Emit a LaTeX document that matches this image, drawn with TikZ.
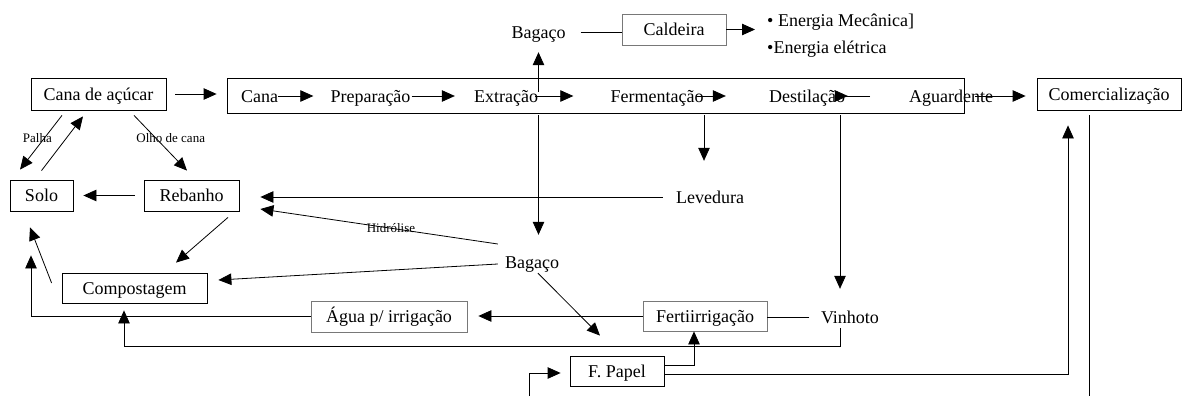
\documentclass[tikz,border=0pt]{standalone}
\usepackage{fontspec}
\setmainfont{Liberation Serif}
\usepackage{xcolor}
\definecolor{LineGray}{RGB}{120,120,120}
\usepackage{tikz}
\usetikzlibrary{arrows.meta}
\tikzset{
  % Framed box
  box/.style={
    rectangle, draw, line width=0.8pt,
    inner sep=0pt, text height=12pt, text depth=0pt
  },
  % Light framed box
  box gray/.style={box, draw=LineGray},
  % Bare text label
  lbl/.style={inner sep=0pt, text height=12pt, text depth=0pt},
  % Small edge label
  small/.style={font=\fontsize{13}{15}\selectfont, inner sep=0pt},
  % Lines and arrows
  ln/.style={line width=0.8pt},
  arr/.style={-{Triangle[length=13pt,width=11.5pt]}, line width=0.8pt},
}
\begin{document}
\begin{tikzpicture}[x=1pt, y=-1pt, font=\fontsize{18}{22}\selectfont]
  \useasboundingbox (0,0) rectangle (1182,396);

  %% Boxes
  \node[box, minimum width=135pt, minimum height=32pt] (cane) at (98.5,94) {Cana de açúcar};
  \node[box, minimum width=737pt, minimum height=35pt] (proc) at (595.5,95.5) {};
  \node[box, minimum width=144pt, minimum height=32pt] (comerc) at (1109,94) {Comercialização};
  \node[box, minimum width=63pt, minimum height=31pt] (solo) at (41.5,195.5) {Solo};
  \node[box, minimum width=95pt, minimum height=31pt] (rebanho) at (191.5,195.5) {Rebanho};
  \node[box, minimum width=145pt, minimum height=30pt] (compost) at (134.5,288) {Compostagem};
  \node[box gray, minimum width=156pt, minimum height=31pt] (agua) at (389,316.5) {Água p/ irrigação};
  \node[box gray, minimum width=124pt, minimum height=30pt] (fert) at (705,316) {Fertiirrigação};
  \node[box, minimum width=94pt, minimum height=30pt] (papel) at (617,371) {F. Papel};
  \node[box gray, minimum width=104pt, minimum height=31pt] (caldeira) at (674,29.5) {Caldeira};

  %% Process steps
  \node[lbl] (cana) at (259.5,96) {Cana};
  \node[lbl] (prep) at (370.5,96) {Preparação};
  \node[lbl] (extr) at (506,96) {Extração};
  \node[lbl] (ferm) at (657,96) {Fermentação};
  \node[lbl] (dest) at (807,96) {Destilação};
  \node[lbl] (aguard) at (951,96) {Aguardente};

  %% Free labels
  \node[lbl] (bagtop) at (538.5,32) {Bagaço};
  \node[lbl, anchor=west] (energyA) at (767,21) {• Energia Mecânica]};
  \node[lbl, anchor=west] (energyB) at (767,48) {•Energia elétrica};
  \node[lbl] (levedura) at (710,197) {Levedura};
  \node[lbl] (bagbot) at (532,262) {Bagaço};
  \node[lbl] (vinhoto) at (850,317) {Vinhoto};

  \coordinate (fermdrop) at ([xshift=-6pt]levedura.north);
  \coordinate (destdrop) at ([xshift=-10pt]vinhoto.north);
  \coordinate (soloin) at ([xshift=-10.5pt]solo.south);
  \coordinate (vinhout) at ([xshift=-10pt]vinhoto.south);
  \coordinate (compin) at ([xshift=-10.5pt]compost.south);
  \coordinate (fertin) at ([xshift=-11pt]fert.south);
  \coordinate (comin) at ([xshift=-41pt]comerc.south);
  \coordinate (comout) at ([xshift=-20pt]comerc.south);
  \coordinate (loopL) at (529,396);
  \coordinate (loopR) at (1089,396);

  %% Process row
  \draw[arr, shorten <=9pt, shorten >=10pt] (cane.east) -- (cane.east -| proc.west);
  \draw[arr, shorten >=17pt] (cana.east) -- (prep.west);
  \draw[arr, shorten <=1pt, shorten >=19pt] (prep.east) -- (extr.west);
  \draw[arr, shorten <=-3pt, shorten >=37pt] (extr.east) -- (ferm.west);
  \draw[arr, shorten <=-8pt, shorten >=43pt] (ferm.east) -- (dest.west);
  \draw[arr, shorten <=-25pt, shorten >=61pt] (dest.east) -- (aguard.west);
  \draw[arr, shorten <=-18pt, shorten >=11pt] (aguard.east) -- (aguard.east -| comerc.west);

  %% Bagasse to boiler
  \draw[arr, shorten <=-2pt, shorten >=14pt] (bagtop |- extr.north) -- (bagtop.south);
  \draw[ln, shorten <=15pt] (bagtop.east) -- (bagtop.east -| caldeira.west);
  \draw[arr, shorten >=12pt] (caldeira.east) -- (caldeira.east -| energyA.west);

  %% Drops below the process box
  \draw[arr, shorten <=2pt, shorten >=21pt] (bagtop |- proc.south) -- (bagtop |- bagbot.north);
  \draw[arr, shorten <=2pt, shorten >=30pt] (fermdrop |- proc.south) -- (fermdrop);
  \draw[arr, shorten <=2pt, shorten >=22pt] (destdrop |- proc.south) -- (destdrop);

  %% Yeast and bagasse uses
  \draw[arr, shorten <=13pt, shorten >=21pt] (levedura.west) -- (levedura.west -| rebanho.east);
  \draw[arr] ([xshift=-7pt,yshift=18pt]bagbot.west)
    -- node[small, pos=0.45]{Hidrólise} ([xshift=21pt,yshift=-13.5pt]rebanho.east);
  \draw[arr] ([xshift=-7pt,yshift=-2pt]bagbot.west) -- ([xshift=11pt,yshift=8pt]compost.east);
  \draw[arr] ([xshift=6pt,yshift=-5pt]bagbot.south) -- ([xshift=-17pt,yshift=20pt]papel.north);

  %% Vinasse
  \draw[ln, shorten <=11.5pt] (vinhoto.west) -- (vinhoto.west -| fert.east);
  \draw[arr, shorten >=11pt] (fert.west) -- (fert.west -| agua.east);
  \draw[arr, shorten >=44pt] (agua.west) -| (soloin);
  \draw[arr, shorten <=5pt, shorten >=7pt] (vinhout) -- ++(0,23) -| (compin);

  %% Paper
  \draw[arr] ([yshift=6pt]papel.east) -| (fertin);
  \draw[arr, shorten >=15pt] ([yshift=-3pt]papel.east) -| (comin);
  \draw[ln, shorten <=5pt] (comout) -- (loopR);
  \draw[arr, shorten >=9pt] (loopL) |- ([yshift=-2pt]papel.west);

  %% Cane, soil, herd
  \draw[arr] ([xshift=-36.5pt,yshift=-5pt]cane.south)
    -- node[small, pos=0.42, xshift=-7pt]{Palha} ([xshift=-21.5pt,yshift=10pt]solo.north);
  \draw[arr] ([yshift=9pt]solo.north) -- ([xshift=-15.5pt,yshift=-6pt]cane.south);
  \draw[arr] ([xshift=35.5pt,yshift=-5pt]cane.south)
    -- node[small, pos=0.41, xshift=15pt]{Olho de cana} ([xshift=-4.5pt,yshift=9pt]rebanho.north);
  \draw[arr, shorten <=9pt, shorten >=10pt] (rebanho.west) -- (rebanho.west -| solo.east);
  \draw[arr] ([xshift=36.5pt,yshift=-6pt]rebanho.south) -- ([xshift=41.5pt,yshift=10pt]compost.north);
  \draw[arr] ([xshift=-10pt,yshift=5pt]compost.west) -- ([xshift=-11.5pt,yshift=-16pt]solo.south);

\end{tikzpicture}
\end{document}
